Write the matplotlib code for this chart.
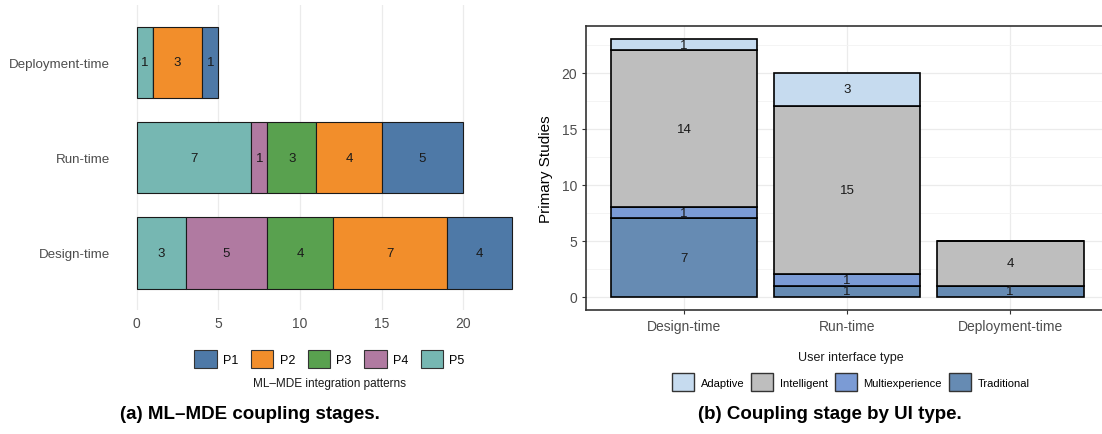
import matplotlib.pyplot as plt
from matplotlib.patches import Patch
import numpy as np

plt.rcParams['font.family'] = ['Liberation Sans', 'DejaVu Sans']

# (a) coupling stages by integration pattern
stages_a = ['Design-time', 'Run-time', 'Deployment-time']
patterns = ['P5', 'P4', 'P3', 'P2', 'P1']   # stacking order from left
p5 = [3, 7, 1]
p4 = [5, 1, 0]
p3 = [4, 3, 0]
p2 = [7, 4, 3]
p1 = [4, 5, 1]
pattern_colors = {'P1': '#4E79A7', 'P2': '#F28E2B', 'P3': '#59A14F',
                  'P4': '#B07AA1', 'P5': '#76B7B2'}

# (b) coupling stage by UI type
stages_b = ['Design-time', 'Run-time', 'Deployment-time']
ui_types = ['Traditional', 'Multiexperience', 'Intelligent', 'Adaptive']  # bottom -> top
traditional = [7, 1, 1]
multiexperience = [1, 1, 0]
intelligent = [14, 15, 4]
adaptive = [1, 3, 0]
ui_colors = {'Adaptive': '#C6DBEF', 'Intelligent': '#BEBEBE',
             'Multiexperience': '#7B9BD5', 'Traditional': '#668BB3'}

tick_col = '#4D4D4D'
grid_col = '#EBEBEB'

fig = plt.figure(figsize=(11.02, 4.35), dpi=100)

# ---------- left panel ----------
ax1 = fig.add_axes([0.1071, 0.285, 0.3748, 0.701])
ya = np.arange(len(stages_a)) + 1
left = np.zeros(len(stages_a))
vals_a = {'P5': p5, 'P4': p4, 'P3': p3, 'P2': p2, 'P1': p1}
for p in patterns:
    v = np.array(vals_a[p], dtype=float)
    ax1.barh(ya, v, left=left, height=0.75, color=pattern_colors[p],
             edgecolor='#1a1a1a', linewidth=0.8, zorder=2)
    for yi, li, vi in zip(ya, left, v):
        if vi > 0:
            ax1.text(li + vi / 2, yi, f'{int(vi)}', ha='center', va='center',
                     fontsize=9.5, color='#1a1a1a', zorder=3)
    left += v
ax1.set_xlim(-1.15, 24.15)
ax1.set_ylim(0.4, 3.6)
ax1.set_xticks([0, 5, 10, 15, 20])
ax1.set_yticks(ya)
ax1.set_yticklabels(stages_a)
ax1.tick_params(length=0, labelsize=9.6, labelcolor=tick_col, pad=6)
ax1.tick_params(axis='x', labelsize=10, pad=4)
ax1.grid(axis='x', color=grid_col, linewidth=0.9, zorder=0)
for s in ax1.spines.values():
    s.set_visible(False)

handles_a = [Patch(facecolor=pattern_colors[p], edgecolor='#333333', linewidth=0.8)
             for p in ['P1', 'P2', 'P3', 'P4', 'P5']]
fig.legend(handles_a, ['P1', 'P2', 'P3', 'P4', 'P5'], loc='center',
           bbox_to_anchor=(0.299, 1 - 360 / 435), ncol=5, frameon=False,
           fontsize=9, handlelength=1.8, handleheight=1.8, handletextpad=0.5,
           columnspacing=1.0)
fig.text(0.299, 1 - 384 / 435, 'ML\u2013MDE integration patterns', ha='center',
         va='center', fontsize=8.5, color='#1a1a1a')

# ---------- right panel ----------
ax2 = fig.add_axes([0.5318, 0.2857, 0.4737, 0.652])
xb = np.arange(len(stages_b)) + 1
bottom = np.zeros(len(stages_b))
vals_b = {'Traditional': traditional, 'Multiexperience': multiexperience,
          'Intelligent': intelligent, 'Adaptive': adaptive}
for u in ui_types:
    v = np.array(vals_b[u], dtype=float)
    ax2.bar(xb, v, bottom=bottom, width=0.9, color=ui_colors[u],
            edgecolor='black', linewidth=1.2, zorder=2)
    for xi, bi, vi in zip(xb, bottom, v):
        if vi > 0:
            ax2.text(xi, bi + vi / 2, f'{int(vi)}', ha='center', va='center',
                     fontsize=9.5, color='#1a1a1a', zorder=3)
    bottom += v
ax2.set_xlim(0.4, 3.6)
ax2.set_ylim(-1.15, 24.15)
ax2.set_xticks(xb)
ax2.set_xticklabels(stages_b)
ax2.set_yticks([0, 5, 10, 15, 20])
ax2.set_yticks([2.5, 7.5, 12.5, 17.5, 22.5], minor=True)
ax2.tick_params(which='major', length=3, color='#333333', labelsize=10,
                labelcolor=tick_col)
ax2.tick_params(which='minor', length=0)
ax2.grid(which='major', color=grid_col, linewidth=0.9, zorder=0)
ax2.grid(which='minor', axis='y', color='#F3F3F3', linewidth=0.6, zorder=0)
ax2.set_ylabel('Primary Studies', fontsize=11, color='black', labelpad=6)
for s in ax2.spines.values():
    s.set_color('#333333')
    s.set_linewidth(1.2)

handles_b = [Patch(facecolor=ui_colors[u], edgecolor='#333333', linewidth=1.0)
             for u in ['Adaptive', 'Intelligent', 'Multiexperience', 'Traditional']]
fig.legend(handles_b, ['Adaptive', 'Intelligent', 'Multiexperience', 'Traditional'],
           loc='center', bbox_to_anchor=(0.772, 1 - 383 / 435), ncol=4,
           frameon=False, fontsize=8, handlelength=2.0, handleheight=2.0,
           handletextpad=0.6, columnspacing=0.6)
fig.text(0.772, 1 - 358 / 435, 'User interface type', ha='center', va='center',
         fontsize=9, color='#1a1a1a')

# captions
fig.text(0.227, 1 - 415 / 435, '(a) ML\u2013MDE coupling stages.', ha='center',
         va='center', fontsize=13.5, fontweight='bold')
fig.text(0.753, 1 - 415 / 435, '(b) Coupling stage by UI type.', ha='center',
         va='center', fontsize=13.5, fontweight='bold')

fig.savefig('out.png', dpi=100)
